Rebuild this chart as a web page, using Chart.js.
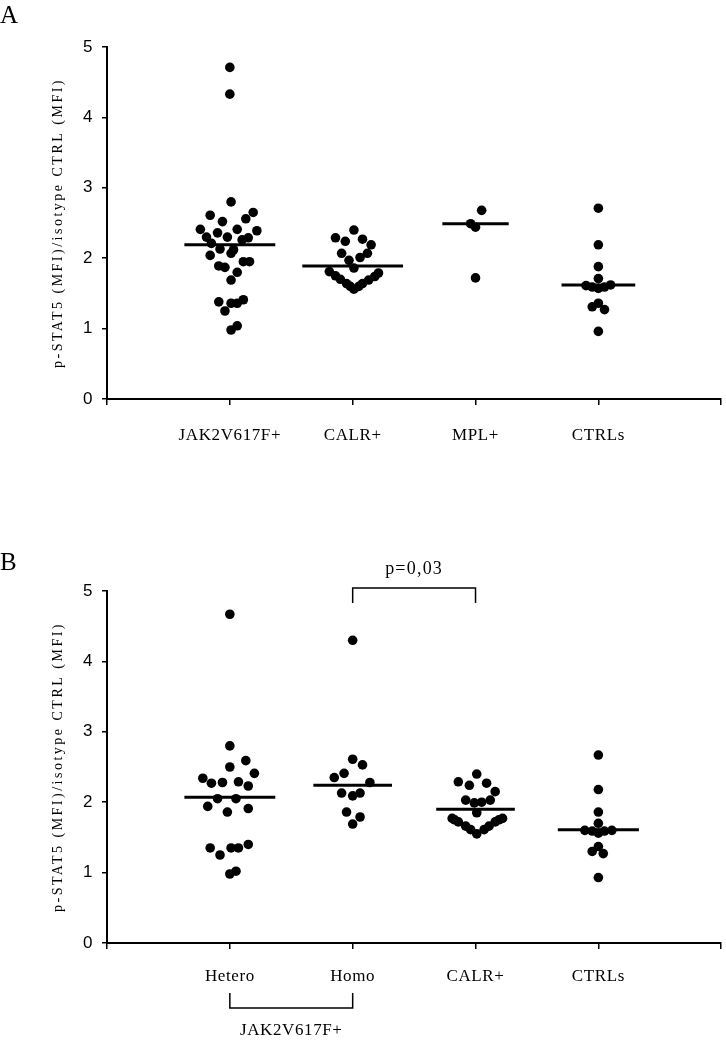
<!DOCTYPE html>
<html>
<head>
<meta charset="utf-8">
<script src="https://cdn.jsdelivr.net/npm/chart.js@4.4.1/dist/chart.umd.min.js"></script>
<style>
  html, body { margin: 0; padding: 0; background: #fff; }
  body { width: 726px; height: 1043px; position: relative; overflow: hidden; }
  .wrap { position: absolute; left: 0; width: 726px; }
  #wa { top: 0; height: 500px; }
  #wb { top: 500px; height: 543px; }
  canvas { display: block; }
</style>
</head>
<body>
<div class="wrap" id="wa"><canvas id="ca" width="726" height="500"></canvas></div>
<div class="wrap" id="wb"><canvas id="cb" width="726" height="543"></canvas></div>
<script>
// ---------- DATA ----------
const catsA = ['JAK2V617F+', 'CALR+', 'MPL+', 'CTRLs'];
const catsB = ['Hetero', 'Homo', 'CALR+', 'CTRLs'];
const yTickValues = [0, 1, 2, 3, 4, 5];
const yTitle = 'p-STAT5 (MFI)/isotype CTRL (MFI)';
const groupLabelB = 'JAK2V617F+';
const pValueText = 'p=0,03';

// Panel A values
const jak2A = [4.71, 4.33, 2.80, 2.61, 2.65, 2.52, 2.56, 2.41, 2.41, 2.39, 2.30, 2.36, 2.30, 2.26, 2.29, 2.21, 2.13, 2.12, 2.04, 2.07, 1.89, 1.87, 1.95, 1.95, 1.80, 1.69, 1.38, 1.36, 1.36, 1.41, 1.25, 0.98, 1.04];
const jak2AJitter = [0.00, 0.00, 0.01, -0.16, 0.19, -0.06, 0.13, -0.24, 0.06, 0.22, -0.19, -0.10, -0.02, 0.10, 0.15, -0.15, -0.08, 0.03, -0.16, 0.01, -0.09, -0.04, 0.11, 0.16, 0.06, 0.01, -0.09, 0.01, 0.06, 0.11, -0.04, 0.01, 0.06];
const calrA = [2.40, 2.29, 2.24, 2.27, 2.19, 2.07, 2.07, 1.97, 2.01, 1.86, 1.81, 1.75, 1.79, 1.74, 1.70, 1.69, 1.64, 1.64, 1.56, 1.60, 1.60];
const calrAJitter = [0.01, -0.14, -0.06, 0.08, 0.15, -0.09, 0.12, -0.03, 0.06, 0.01, -0.19, -0.14, 0.21, 0.18, -0.10, 0.13, -0.05, 0.08, 0.01, -0.02, 0.05];
const mplA = [2.68, 2.49, 2.44, 1.72];
const mplAJitter = [0.05, -0.04, 0.00, 0.00];
const ctrlA = [2.71, 2.19, 1.88, 1.71, 1.61, 1.59, 1.57, 1.59, 1.62, 1.31, 1.27, 1.36, 0.96];
const ctrlAJitter = [0, 0, 0, 0, -0.10, -0.05, 0, 0.05, 0.10, -0.05, 0.05, 0, 0];
const meansA = [2.19, 1.89, 2.49, 1.62];

// Panel B values
const heteroB = [4.67, 2.80, 2.59, 2.50, 2.41, 2.34, 2.27, 2.28, 2.29, 2.23, 2.05, 2.05, 1.94, 1.86, 1.91, 1.35, 1.25, 1.35, 1.35, 1.40, 0.98, 1.02];
const heteroBJitter = [0, 0, 0.13, 0, 0.20, -0.22, -0.15, -0.06, 0.07, 0.15, -0.10, 0.05, -0.18, -0.02, 0.15, -0.16, -0.08, 0.01, 0.07, 0.15, 0, 0.05];
const homoB = [4.30, 2.61, 2.53, 2.35, 2.41, 2.28, 2.13, 2.09, 2.13, 1.86, 1.79, 1.69];
const homoBJitter = [0, 0, 0.08, -0.15, -0.07, 0.14, -0.09, 0, 0.06, -0.05, 0.06, 0];
const calrB = [2.40, 2.29, 2.24, 2.27, 2.15, 2.03, 2.03, 1.99, 2.00, 1.85, 1.77, 1.77, 1.72, 1.72, 1.66, 1.66, 1.61, 1.61, 1.55, 1.75, 1.75];
const calrBJitter = [0.01, -0.14, -0.05, 0.09, 0.16, -0.08, 0.12, -0.01, 0.05, 0.01, -0.19, 0.22, -0.14, 0.16, -0.08, 0.11, -0.04, 0.07, 0.01, -0.17, 0.19];
const ctrlB = [2.67, 2.18, 1.86, 1.70, 1.60, 1.59, 1.56, 1.59, 1.60, 1.30, 1.27, 1.37, 0.93];
const ctrlBJitter = [0, 0, 0, 0, -0.11, -0.05, 0, 0.05, 0.11, -0.05, 0.04, 0, 0];
const meansB = [2.07, 2.24, 1.90, 1.61];

// ---------- STYLE ----------
const meanHalfA = [0.37, 0.41, 0.27, 0.30];
const meanHalfB = [0.37, 0.32, 0.32, 0.33];
const SERIF = '"Liberation Serif", "Times New Roman", serif';
const SANS = '"Liberation Sans", Arial, sans-serif';
const AREA_LEFT = 107;
const RIGHT_PAD = -3;

function pts(cx, ys, jit) {
  return ys.map((y, i) => ({ x: cx + jit[i], y: y }));
}
function pointDs(data) {
  return { type: 'scatter', data, pointRadius: 4.8, pointHoverRadius: 4.8,
    backgroundColor: '#000', borderColor: '#000', borderWidth: 0, showLine: false, clip: false };
}
function meanDs(cx, m, half) {
  return { type: 'line', data: [{ x: cx - half, y: m }, { x: cx + half, y: m }],
    borderColor: '#000', borderWidth: 3, pointRadius: 0, showLine: true, fill: false, clip: false };
}

function makeChart(canvasId, cats, groups, means, halves, geom, extra) {
  const datasets = [];
  groups.forEach((g, i) => datasets.push(pointDs(pts(i + 1, g[0], g[1]))));
  means.forEach((m, i) => datasets.push(meanDs(i + 1, m, halves[i])));

  const annot = {
    id: 'annot',
    beforeDraw(chart) { chart.ctx.letterSpacing = '0.6px'; },
    afterDraw(chart) {
      const ctx = chart.ctx;
      const ys = chart.scales.y;
      ctx.save();
      ctx.fillStyle = '#000';
      ctx.letterSpacing = '2.5px';
      ctx.font = '14px ' + SERIF;
      ctx.textAlign = 'center';
      ctx.textBaseline = 'middle';
      ctx.translate(58, (ys.top + ys.bottom) / 2);
      ctx.rotate(-Math.PI / 2);
      ctx.fillText(yTitle, 0, 0);
      ctx.restore();
      ctx.save();
      ctx.letterSpacing = '0px';
      ctx.fillStyle = '#000';
      ctx.font = '25px ' + SERIF;
      ctx.textAlign = 'left';
      ctx.textBaseline = 'alphabetic';
      ctx.fillText(geom.letter, 0, geom.letterY);
      ctx.restore();
      if (extra) extra(chart);
    }
  };

  return new Chart(document.getElementById(canvasId), {
    type: 'scatter',
    data: { datasets },
    options: {
      responsive: false,
      animation: false,
      events: [],
      layout: { padding: { top: geom.top, right: RIGHT_PAD, left: 0, bottom: 0 } },
      plugins: { legend: { display: false }, tooltip: { enabled: false } },
      scales: {
        x: {
          type: 'linear', min: 0, max: 5,
          afterFit: s => { s.height = geom.H - geom.bottom; s.paddingLeft = 0; s.paddingRight = 0; },
          afterBuildTicks: s => { s.ticks = [0, 1, 2, 3, 4, 5].map(v => ({ value: v })); },
          ticks: {
            autoSkip: false, maxRotation: 0, minRotation: 0,
            padding: geom.xPad, color: '#000',
            font: { family: SERIF, size: 17 },
            callback: v => (v >= 1 && v <= 4 ? cats[v - 1] : '')
          },
          grid: { display: true, drawOnChartArea: false, drawTicks: true, tickLength: 6, color: '#000', lineWidth: 1.5 },
          border: { display: true, color: '#000', width: 2 }
        },
        y: {
          type: 'linear', min: 0, max: 5,
          afterFit: s => { s.width = AREA_LEFT; s.paddingTop = 0; s.paddingBottom = 0; },
          afterBuildTicks: s => { s.ticks = yTickValues.map(v => ({ value: v })); },
          ticks: { padding: 9, color: '#000', font: { family: SANS, size: 17 } },
          grid: { display: true, drawOnChartArea: false, drawTicks: true, tickLength: 5, color: '#000', lineWidth: 1.5 },
          border: { display: true, color: '#000', width: 2 }
        }
      }
    },
    plugins: [annot]
  });
}

makeChart('ca', catsA,
  [[jak2A, jak2AJitter], [calrA, calrAJitter], [mplA, mplAJitter], [ctrlA, ctrlAJitter]],
  meansA, meanHalfA,
  { H: 500, top: 47, bottom: 399, xPad: 20, letter: 'A', letterY: 23 }, null);

makeChart('cb', catsB,
  [[heteroB, heteroBJitter], [homoB, homoBJitter], [calrB, calrBJitter], [ctrlB, ctrlBJitter]],
  meansB, meanHalfB,
  { H: 543, top: 91, bottom: 443, xPad: 17, letter: 'B', letterY: 70 },
  function (chart) {
    const ctx = chart.ctx;
    const xs = chart.scales.x;
    const x1 = xs.getPixelForValue(1), x2 = xs.getPixelForValue(2), x3 = xs.getPixelForValue(3);
    ctx.save();
    ctx.strokeStyle = '#000';
    ctx.fillStyle = '#000';
    ctx.lineWidth = 1.5;
    ctx.beginPath();
    ctx.moveTo(x2, 103); ctx.lineTo(x2, 88); ctx.lineTo(x3, 88); ctx.lineTo(x3, 103);
    ctx.stroke();
    ctx.letterSpacing = '1.2px';
    ctx.font = '18px ' + SERIF;
    ctx.textAlign = 'center';
    ctx.textBaseline = 'middle';
    ctx.fillText(pValueText, (x2 + x3) / 2, 69);
    ctx.beginPath();
    ctx.moveTo(x1, 493); ctx.lineTo(x1, 508); ctx.lineTo(x2, 508); ctx.lineTo(x2, 493);
    ctx.stroke();
    ctx.letterSpacing = '0.6px';
    ctx.font = '17px ' + SERIF;
    ctx.fillText(groupLabelB, (x1 + x2) / 2, 531);
    ctx.restore();
  });
</script>
</body>
</html>
